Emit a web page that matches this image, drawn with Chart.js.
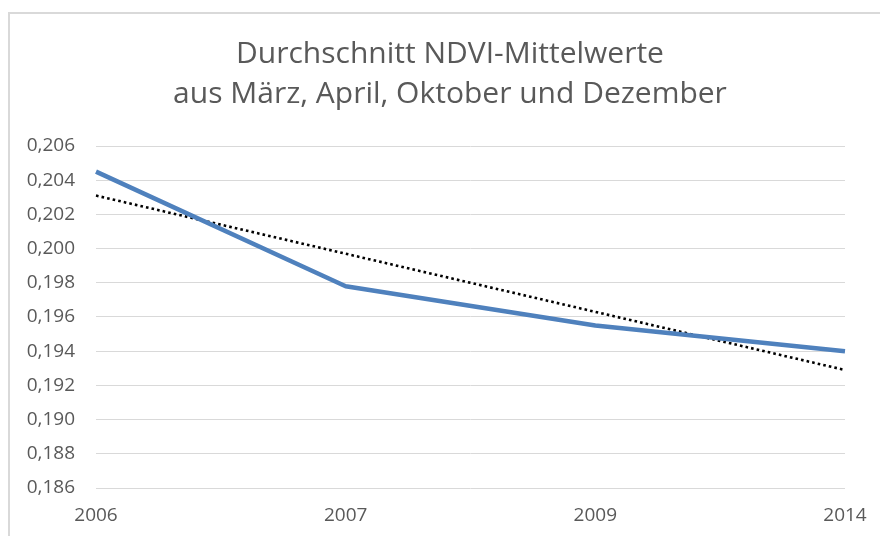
<!DOCTYPE html>
<html>
<head>
<meta charset="utf-8">
<script src="https://cdn.jsdelivr.net/npm/chart.js@4/dist/chart.umd.min.js"></script>
<style>
  html, body { margin: 0; padding: 0; background: #ffffff; width: 880px; height: 536px; overflow: hidden; }
  #frame { position: absolute; left: 8px; top: 12px; width: 1000px; height: 1000px; border: 2px solid #d9d9d9; box-sizing: border-box; }
  #c { position: absolute; left: 0; top: 0; }
</style>
</head>
<body>
<div id="frame"></div>
<canvas id="c" width="900" height="536" style="width:900px;height:536px;"></canvas>
<script>
const titleLines = ['Durchschnitt NDVI-Mittelwerte', 'aus März, April, Oktober und Dezember'];
const years = ['2006', '2007', '2009', '2014'];
const ndvi = [0.2045, 0.1978, 0.1955, 0.1940];
const trend = [0.2031, null, null, 0.1929];
const yMin = 0.186, yMax = 0.206, yStep = 0.002;

const textColor = '#595959';
const fontFamily = '"Open Sans", "Noto Sans", sans-serif';

new Chart(document.getElementById('c'), {
  type: 'line',
  data: {
    labels: years,
    datasets: [
      {
        label: 'NDVI',
        data: ndvi,
        borderColor: '#4f81bd',
        backgroundColor: '#4f81bd',
        borderWidth: 4.5,
        pointRadius: 0,
        tension: 0,
        borderJoinStyle: 'round'
      },
      {
        label: 'Trend',
        data: trend,
        borderColor: '#000000',
        borderWidth: 2.6,
        borderDash: [2.6, 3.1],
        pointRadius: 0,
        tension: 0,
        spanGaps: true
      }
    ]
  },
  options: {
    responsive: false,
    animation: false,
    layout: { padding: { left: 0, right: 0, top: 0, bottom: 0 } },
    plugins: {
      legend: { display: false },
      tooltip: { enabled: false },
      title: {
        display: true,
        text: titleLines,
        color: textColor,
        font: { family: fontFamily, size: 30, weight: 'normal', lineHeight: 40 / 30 },
        padding: { top: 34, bottom: 32 }
      }
    },
    scales: {
      x: {
        grid: { display: false, drawTicks: false },
        border: { display: false },
        ticks: { color: textColor, font: { family: fontFamily, size: 19 }, padding: 16, maxRotation: 0 },
        afterFit: (s) => { s.height = 48; }
      },
      y: {
        min: yMin,
        max: yMax,
        grid: { color: '#d9d9d9', lineWidth: 1, drawTicks: false },
        border: { display: false },
        ticks: {
          stepSize: yStep,
          color: textColor,
          font: { family: fontFamily, size: 19 },
          padding: 21,
          callback: (v) => Number(v).toFixed(3).replace('.', ',')
        },
        afterFit: (s) => { s.width = 96; }
      },
      yRightSpace: {
        type: 'linear',
        position: 'right',
        display: true,
        grid: { display: false, drawTicks: false },
        border: { display: false },
        ticks: { display: false },
        afterFit: (s) => { s.width = 55; }
      }
    }
  }
});
</script>
</body>
</html>
